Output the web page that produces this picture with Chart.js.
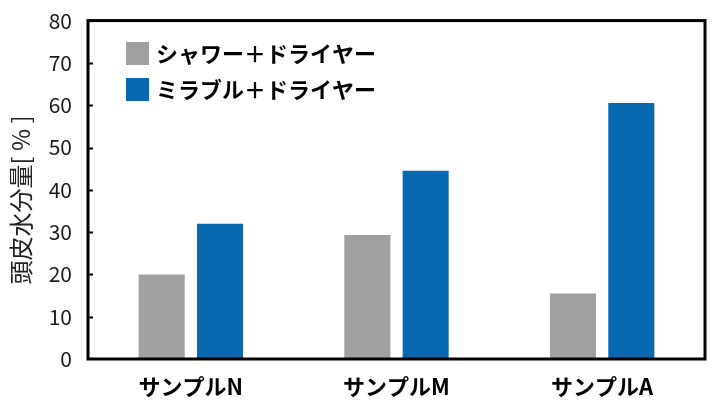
<!DOCTYPE html>
<html>
<head>
<meta charset="utf-8">
<script src="https://cdn.jsdelivr.net/npm/chart.js@4"></script>
<style>
  body { margin: 0; background: #fff; }
  canvas { display: block; }
</style>
</head>
<body>
<canvas id="myChart" width="714" height="405"></canvas>
<script>
// datos
const categorias = ['サンプルN', 'サンプルM', 'サンプルA'];
const seriesNombres = ['シャワー＋ドライヤー', 'ミラブル＋ドライヤー'];
const ducha = [20, 29.3, 15.5];
const mirable = [32, 44.5, 60.5];
const colores = ['#a0a0a0', '#0868b0'];
const tituloY = '頭皮水分量[ % ]';

const fuente = "'Noto Sans CJK JP', 'Noto Sans', sans-serif";

// marco negro, ticks hacia dentro, titulo del eje y leyenda dentro del area
const marcoPlugin = {
  id: 'marco',
  afterDraw(chart) {
    const { ctx, chartArea: a, scales } = chart;
    ctx.save();
    ctx.strokeStyle = '#000';
    ctx.lineWidth = 2;
    const y = scales.y;
    y.ticks.forEach(t => {
      if (t.value === 0 || t.value === 80) return;
      const py = Math.round(y.getPixelForValue(t.value)) + 0.5;
      ctx.beginPath();
      ctx.moveTo(a.left, py);
      ctx.lineTo(a.left + 5, py);
      ctx.stroke();
    });
    ctx.lineWidth = 3;
    ctx.strokeRect(a.left, a.top, a.right - a.left, a.bottom - a.top);

    // titulo del eje Y
    ctx.save();
    ctx.translate(21, 200);
    ctx.rotate(-Math.PI / 2);
    ctx.font = '24px ' + fuente;
    ctx.fillStyle = '#222';
    ctx.textAlign = 'center';
    ctx.textBaseline = 'middle';
    ctx.fillText(tituloY, 0, 0);
    ctx.restore();

    // leyenda
    ctx.font = 'bold 22px ' + fuente;
    ctx.textBaseline = 'middle';
    chart.data.datasets.forEach((ds, i) => {
      const by = 42 + i * 36;
      ctx.fillStyle = ds.backgroundColor;
      ctx.fillRect(126, by, 23, 23);
      ctx.fillStyle = '#000';
      ctx.fillText(ds.label, 156, by + 12);
    });
    ctx.restore();
  }
};

new Chart(document.getElementById('myChart'), {
  type: 'bar',
  data: {
    labels: categorias,
    datasets: [
      { label: seriesNombres[0], data: ducha, backgroundColor: colores[0] },
      { label: seriesNombres[1], data: mirable, backgroundColor: colores[1] }
    ]
  },
  options: {
    responsive: false,
    animation: false,
    layout: { padding: { top: 16, right: 9, left: 0, bottom: 0 } },
    categoryPercentage: 0.567,
    barPercentage: 0.79,
    plugins: {
      legend: { display: false },
      tooltip: { enabled: false }
    },
    scales: {
      x: {
        grid: { display: false },
        border: { display: false },
        ticks: {
          color: '#000',
          font: { family: fuente, size: 22, weight: 'bold' },
          padding: 6
        },
        afterFit: s => { s.height = 46; }
      },
      y: {
        min: 0,
        max: 80,
        ticks: {
          stepSize: 10,
          color: '#1a1a1a',
          font: { family: fuente, size: 21 },
          padding: 8
        },
        grid: { display: false },
        border: { display: false },
        afterFit: s => { s.width = 88; }
      }
    }
  },
  plugins: [marcoPlugin]
});
</script>
</body>
</html>
